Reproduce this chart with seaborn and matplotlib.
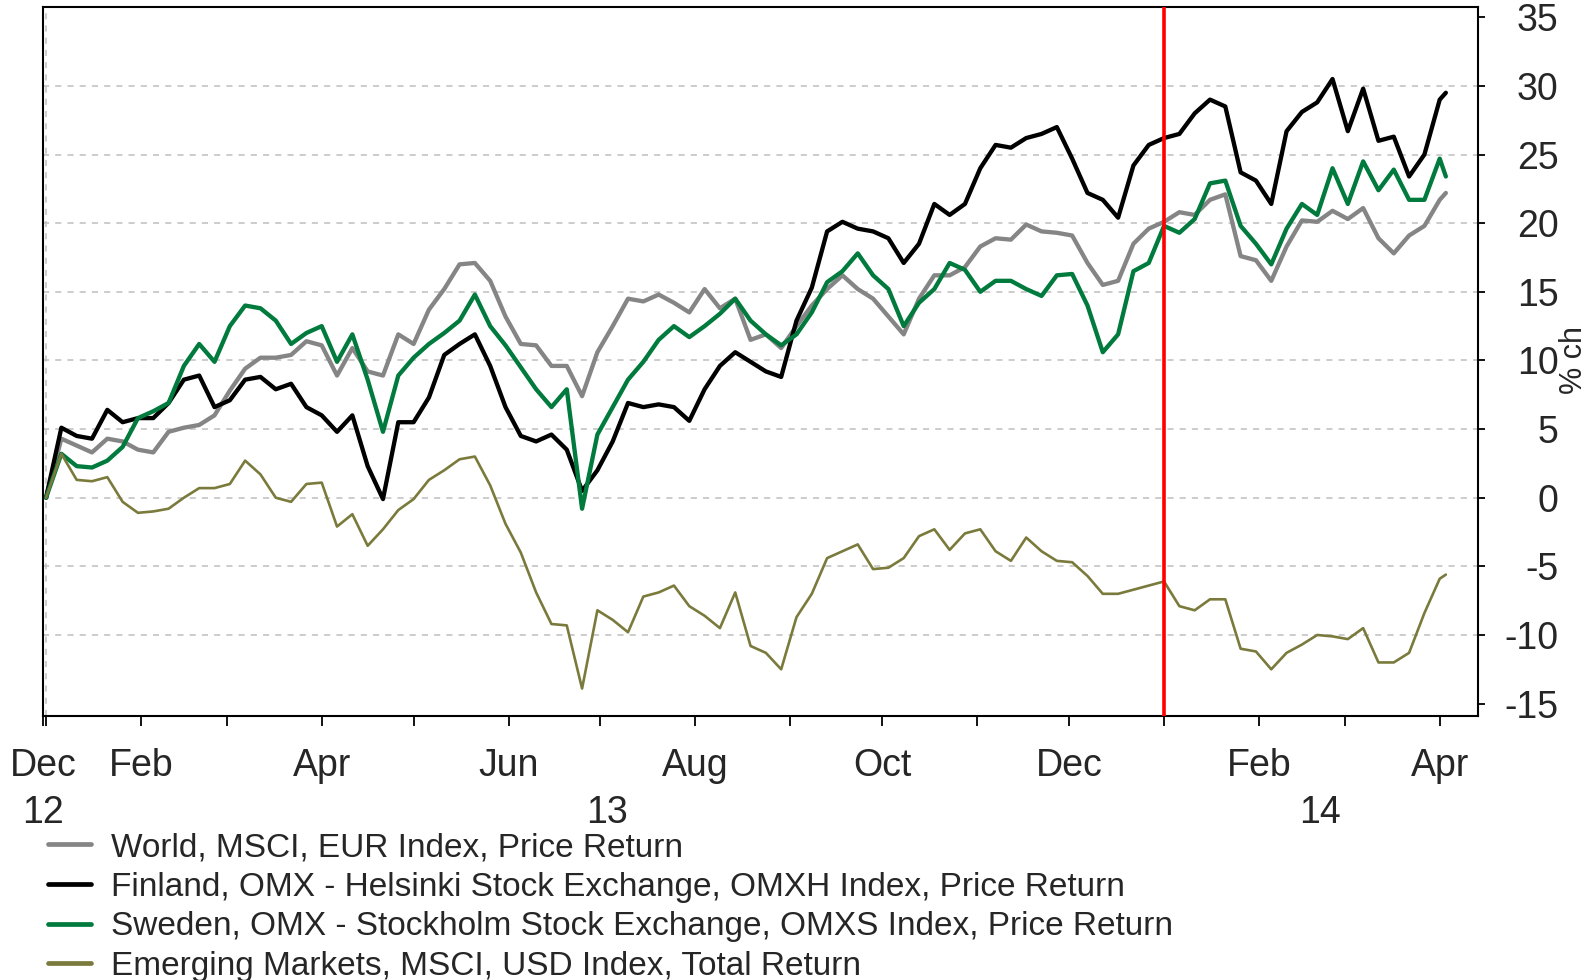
import pandas as pd
import matplotlib
matplotlib.use("Agg")
import matplotlib.pyplot as plt
import matplotlib.dates as mdates
import matplotlib.transforms as mtransforms
from matplotlib.lines import Line2D
import seaborn as sns

# sampled every 5 days from 2013-01-01, last point 2014-04-03
dates = list(pd.date_range("2013-01-01", "2014-04-01", freq="5D")) + [pd.Timestamp("2014-04-03")]

world = [
    0, 4.3, 3.8, 3.3, 4.3, 4.1, 3.5, 3.3, 4.8, 5.1,
    5.3, 6.0, 7.8, 9.4, 10.2, 10.2, 10.4, 11.4, 11.1, 8.9,
    10.9, 9.2, 8.9, 11.9, 11.2, 13.7, 15.2, 17.0, 17.1, 15.8,
    13.2, 11.2, 11.1, 9.6, 9.6, 7.4, 10.6, 12.5, 14.5, 14.3,
    14.8, 14.2, 13.5, 15.2, 13.8, 14.5, 11.5, 11.9, 10.9, 12.5,
    14.0, 15.2, 16.2, 15.2, 14.5, 13.2, 11.9, 14.5, 16.2, 16.2,
    16.8, 18.3, 18.9, 18.8, 19.9, 19.4, 19.3, 19.1, 17.1, 15.5,
    15.8, 18.5, 19.6, 20.1, 20.8, 20.6, 21.7, 22.1, 17.6, 17.3,
    15.8, 18.3, 20.2, 20.1, 20.9, 20.3, 21.1, 18.9, 17.8, 19.1,
    19.8, 21.7, 22.2,
]
finland = [
    0, 5.1, 4.5, 4.3, 6.4, 5.5, 5.8, 5.8, 6.9, 8.6,
    8.9, 6.6, 7.1, 8.6, 8.8, 7.9, 8.3, 6.6, 6.0, 4.8,
    6.0, 2.3, -0.1, 5.5, 5.5, 7.3, 10.4, 11.2, 11.9, 9.6,
    6.6, 4.5, 4.1, 4.6, 3.5, 0.5, 2.0, 4.1, 6.9, 6.6,
    6.8, 6.6, 5.6, 7.9, 9.6, 10.6, 9.9, 9.2, 8.8, 12.9,
    15.3, 19.4, 20.1, 19.6, 19.4, 18.9, 17.1, 18.5, 21.4, 20.6,
    21.4, 24.0, 25.7, 25.5, 26.2, 26.5, 27.0, 24.7, 22.2, 21.7,
    20.4, 24.2, 25.7, 26.2, 26.5, 28.0, 29.0, 28.5, 23.7, 23.1,
    21.4, 26.7, 28.1, 28.8, 30.5, 26.7, 29.8, 26.0, 26.3, 23.4,
    25.0, 29.0, 29.5,
]
sweden = [
    0, 3.2, 2.3, 2.2, 2.7, 3.7, 5.8, 6.3, 6.9, 9.6,
    11.2, 9.9, 12.5, 14.0, 13.8, 12.9, 11.2, 12.0, 12.5, 9.9,
    11.9, 8.6, 4.8, 8.9, 10.2, 11.2, 12.0, 12.9, 14.8, 12.5,
    11.1, 9.5, 7.9, 6.6, 7.9, -0.8, 4.6, 6.6, 8.6, 9.9,
    11.5, 12.5, 11.7, 12.5, 13.4, 14.5, 12.9, 11.9, 11.1, 11.9,
    13.5, 15.7, 16.5, 17.8, 16.2, 15.2, 12.5, 14.2, 15.2, 17.1,
    16.6, 15.0, 15.8, 15.8, 15.2, 14.7, 16.2, 16.3, 14.0, 10.6,
    11.9, 16.5, 17.1, 19.8, 19.3, 20.3, 22.9, 23.1, 19.8, 18.5,
    17.0, 19.6, 21.4, 20.6, 24.0, 21.4, 24.5, 22.4, 23.9, 21.7,
    21.7, 24.7, 23.4,
]
emerging = [
    0, 3.2, 1.3, 1.2, 1.5, -0.3, -1.1, -1.0, -0.8, 0.0,
    0.7, 0.7, 1.0, 2.7, 1.7, 0.0, -0.3, 1.0, 1.1, -2.1,
    -1.2, -3.5, -2.3, -0.9, -0.1, 1.3, 2.0, 2.8, 3.0, 0.9,
    -1.9, -4.0, -6.9, -9.2, -9.3, -13.9, -8.2, -8.9, -9.8, -7.2,
    -6.9, -6.4, -7.9, -8.6, -9.5, -6.9, -10.8, -11.3, -12.5, -8.7,
    -7.0, -4.4, -3.9, -3.4, -5.2, -5.1, -4.4, -2.8, -2.3, -3.8,
    -2.6, -2.3, -3.9, -4.6, -2.9, -3.9, -4.6, -4.7, -5.7, -7.0,
    -7.0, -6.7, -6.4, -6.1, -7.9, -8.2, -7.4, -7.4, -11.0, -11.2,
    -12.5, -11.3, -10.7, -10.0, -10.1, -10.3, -9.5, -12.0, -12.0, -11.3,
    -8.4, -5.9, -5.6,
]

labels = [
    "World, MSCI, EUR Index, Price Return",
    "Finland, OMX - Helsinki Stock Exchange, OMXH Index, Price Return",
    "Sweden, OMX - Stockholm Stock Exchange, OMXS Index, Price Return",
    "Emerging Markets, MSCI, USD Index, Total Return",
]
colors = ["#858585", "#000000", "#007A3D", "#7A7A3C"]
widths = [3.1, 3.1, 3.1, 1.9]

y_ticks = [-15, -10, -5, 0, 5, 10, 15, 20, 25, 30, 35]
month_ticks = ["2012-12-31", "2013-02-01", "2013-04-01", "2013-06-01", "2013-08-01",
               "2013-10-01", "2013-12-01", "2014-02-01", "2014-04-01"]
month_labels = ["Dec", "Feb", "Apr", "Jun", "Aug", "Oct", "Dec", "Feb", "Apr"]
year_labels = ["12", "13", "14"]
year_pos = ["2012-12-31", "2013-07-03", "2014-02-21"]
event_date = "2014-01-01"

sns.set_style("white")
plt.rcParams["font.family"] = ["Liberation Sans", "DejaVu Sans"]

fig = plt.figure(figsize=(15.92, 9.8), dpi=100)
ax = fig.add_axes([0.027, 0.2694, 0.9014, 0.7235])

for yv in y_ticks[1:-1]:
    ax.axhline(yv, color="#BFBFBF", lw=1.1, ls=(0, (4, 4)), zorder=1)
ax.axvline(pd.Timestamp("2013-01-01"), color="#BFBFBF", lw=1.1, ls=(0, (4, 4)), zorder=1)

series = [world, finland, sweden, emerging]
for vals, lab, col, lw in zip(series, labels, colors, widths):
    sns.lineplot(x=dates, y=vals, color=col, lw=lw, ax=ax, zorder=3)

ax.axvline(pd.Timestamp(event_date), color="#FF0000", lw=2.6, zorder=5)

ax.set_xlim(pd.Timestamp("2012-12-31 02:00"), pd.Timestamp("2014-04-13 12:00"))
ax.set_ylim(-15.9, 35.75)

ax.set_xticks([pd.Timestamp(t) for t in month_ticks])
ax.set_xticklabels(month_labels, fontsize=27)
ax.xaxis.set_minor_locator(mdates.MonthLocator())
ax.tick_params(axis="x", which="both", direction="out", length=7, width=1.3, color="black",
               bottom=True, pad=16)

ax.yaxis.tick_right()
ax.set_yticks(y_ticks)
ax.set_yticklabels([str(v) for v in y_ticks], fontsize=27)
ax.tick_params(axis="y", direction="out", length=5, width=1.3, color="black", right=True,
               left=False, pad=53)
for t in ax.get_yticklabels():
    t.set_horizontalalignment("right")

for s in ax.spines.values():
    s.set_visible(True)
    s.set_color("black")
    s.set_linewidth(1.5)

trans = mtransforms.blended_transform_factory(ax.transData, ax.transAxes)
for lab, pos in zip(year_labels, year_pos):
    ax.text(pd.Timestamp(pos), -0.137, lab, transform=trans, ha="center", va="center", fontsize=27)

ax.set_xlabel("")
ax.set_ylabel("")
fig.text(1574 / 1592, 0.633, "% ch", rotation=90, ha="center", va="center", fontsize=22)

handles = [Line2D([0], [0], color=c, lw=3.4) for c in colors]
fig.legend(handles, labels, loc="upper left", bbox_to_anchor=(0.030, 0.151), frameon=False,
           fontsize=24, borderaxespad=0, borderpad=0, labelspacing=0.26,
           handlelength=1.3, handletextpad=0.6)

fig.savefig("out.png", dpi=100)
